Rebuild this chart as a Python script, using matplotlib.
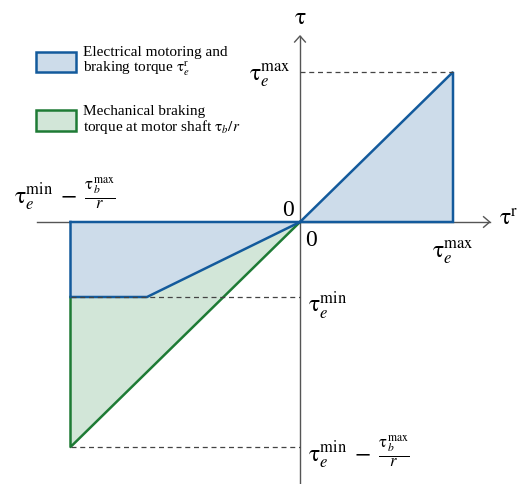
import numpy as np
import matplotlib.pyplot as plt
from matplotlib.patches import Polygon, Rectangle

plt.rcParams['font.family'] = 'serif'
plt.rcParams['font.serif'] = ['Liberation Serif', 'DejaVu Serif']
plt.rcParams['mathtext.fontset'] = 'stix'

# operating limits (normalised to tau_e^max = 1)
te_max = 1.0
te_min = -0.5
tb_over_r = 1.0
te_low = te_min - tb_over_r   # tau_e^min - tau_b^max / r
x_left = -1.5                 # leftmost speed of the braking region
x_kink = -1.0                 # where electrical limit reaches tau_e^min

# region outlines
green_x = [0.0, x_kink, x_left, x_left]
green_y = [0.0, te_min, te_min, te_low]

blue_edge = '#135a9c'
blue_fill = '#cddcea'
green_edge = '#1e7b35'
green_fill = '#d2e6d8'
axis_col = '#555555'

fig = plt.figure(figsize=(5.23, 4.84), dpi=100)
ax = fig.add_axes([0, 0, 1, 1])
ax.set_xlim(-300 / 153, 223 / 153)
ax.set_ylim(-262 / 150, 222 / 150)
ax.axis('off')

# axes with arrows
ax.plot([-1.72, 1.24], [0, 0], color=axis_col, lw=1, zorder=1)
ax.plot([0, 0], [-1.75, 1.24], color=axis_col, lw=1, zorder=1)
ax.plot([1.20, 1.24, 1.20], [0.035, 0, -0.035], color=axis_col, lw=1)
ax.plot([-0.035, 0, 0.035], [1.20, 1.24, 1.20], color=axis_col, lw=1)

# green mechanical braking region
ax.add_patch(Polygon(np.column_stack([green_x, green_y]), closed=True,
                     facecolor=green_fill, edgecolor='none', zorder=2))
ax.plot([x_left, x_left, 0.0], [te_min, te_low, 0.0], color=green_edge,
        lw=1.8, zorder=3)

# blue electrical region
ax.add_patch(Polygon(np.column_stack([[x_left, 0.0, x_kink, x_left],
                                      [0.0, 0.0, te_min, te_min]]),
                     closed=True, facecolor=blue_fill, edgecolor='none', zorder=2))
ax.add_patch(Polygon(np.column_stack([[0.0, te_max, te_max], [0.0, te_max, 0.0]]),
                     closed=True, facecolor=blue_fill, edgecolor='none', zorder=2))
ax.plot([x_left, te_max, te_max, 0.0], [0.0, 0.0, te_max, 0.0],
        color=blue_edge, lw=1.8, zorder=4, solid_joinstyle='miter')
ax.plot([0.0, x_kink, x_left, x_left], [0.0, te_min, te_min, 0.0],
        color=blue_edge, lw=1.8, zorder=4, solid_joinstyle='miter')

# dashed guides
ax.plot([0, te_max], [te_max, te_max], ls=(0, (4, 3)), color='#444444', lw=0.9, zorder=5)
ax.plot([x_left, 0], [te_min, te_min], ls=(0, (4, 3)), color='#444444', lw=0.9, zorder=5)
ax.plot([x_left, 0], [te_low, te_low], ls=(0, (4, 3)), color='#444444', lw=0.9, zorder=5)

fs = 17
lab_low = (r'$\mathrm{\tau}_e^{\mathrm{min}}\;-\;'
           r'\frac{\mathrm{\tau}_b^{\mathrm{max}}}{r}$')
ax.text(0, 1.36, r'$\mathrm{\tau}$', fontsize=fs, ha='center', va='center')
ax.text(1.30, 0.01, r'$\mathrm{\tau}^{\mathrm{r}}$', fontsize=fs, ha='left', va='center')
ax.text(-0.08, 0.08, '0', fontsize=fs, ha='center', va='center')
ax.text(0.07, -0.12, '0', fontsize=fs, ha='center', va='center')
ax.text(-0.06, te_max - 0.02, r'$\mathrm{\tau}_e^{\mathrm{max}}$', fontsize=fs,
        ha='right', va='center')
ax.text(te_max, -0.2, r'$\mathrm{\tau}_e^{\mathrm{max}}$', fontsize=fs,
        ha='center', va='center')
ax.text(0.05, te_min - 0.06, r'$\mathrm{\tau}_e^{\mathrm{min}}$', fontsize=fs,
        ha='left', va='center')
ax.text(0.05, te_low - 0.03, lab_low, fontsize=fs, ha='left', va='center')
ax.text(-1.87, 0.19, lab_low, fontsize=fs, ha='left', va='center')

# legend
ax.add_patch(Rectangle((-1.725, 1.0), 0.26, 0.135, facecolor=blue_fill,
                       edgecolor=blue_edge, lw=1.8, zorder=5))
ax.add_patch(Rectangle((-1.725, 0.61), 0.26, 0.135, facecolor=green_fill,
                       edgecolor=green_edge, lw=1.8, zorder=5))
ax.text(-1.418, 1.065, 'Electrical motoring and\nbraking torque ' + r'$\mathrm{\tau}_e^{\mathrm{r}}$',
        fontsize=11, ha='left', va='center', linespacing=1.0)
ax.text(-1.418, 0.68, 'Mechanical braking\ntorque at motor shaft ' + r'$\mathrm{\tau}_b/r$',
        fontsize=11, ha='left', va='center', linespacing=1.0)

fig.savefig('out.png', dpi=100)
